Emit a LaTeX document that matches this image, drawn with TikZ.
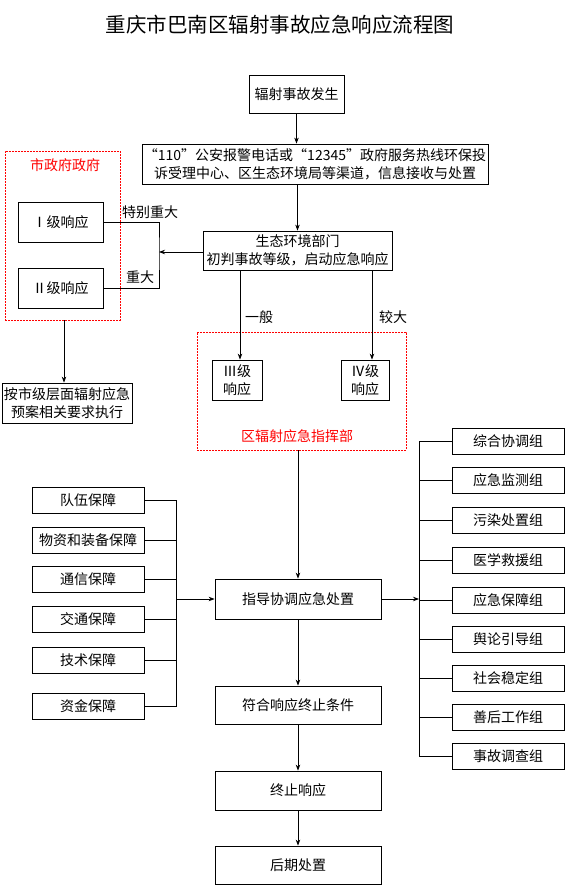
\documentclass[tikz,border=0pt]{standalone}
\usepackage{fontspec}
\setmainfont{Noto Sans CJK SC}
\usetikzlibrary{arrows.meta}

\begin{document}
\begin{tikzpicture}[x=1pt,y=-1pt,
    box/.style={draw, line width=0.8pt, inner sep=0pt, align=center,
      font=\fontsize{14}{18}\selectfont},
    zone/.style={draw=red, line width=0.6pt, dash pattern=on 2pt off 1pt,
      inner sep=0pt},
    arr/.style={-{Stealth[length=6pt,width=4.5pt]}, line width=0.8pt},
    lbl/.style={font=\fontsize{14}{16}\selectfont}]
    \useasboundingbox (0,0) rectangle (565,885);

    \node[font=\fontsize{20.5}{24}\selectfont] (title) at (280,25)
        {重庆市巴南区辐射事故应急响应流程图};

    % main flow
    \node[box, minimum width=95pt, minimum height=38pt] (occur) at (296.5,94) {辐射事故发生};
    \node[box, minimum width=346pt, minimum height=40pt] (report) at (315,164)
        {“110”公安报警电话或“12345”政府服务热线环保投\\诉受理中心、区生态环境局等渠道，信息接收与处置};
    \node[box, minimum width=189pt, minimum height=39pt] (judge) at (297.5,250.5)
        {生态环境部门\\初判事故等级，启动应急响应};
    \draw[arr] (occur.south) -- (occur.south |- report.north);
    \draw[arr] (judge.north |- report.south) -- (judge.north);

    % city level
    \node[zone, minimum width=115pt, minimum height=169pt] (city) at (62.5,235.5) {};
    \node[lbl, red] (citytitle) at (65,165) {市政府政府};
    \node[box, minimum width=85pt, minimum height=40pt] (lv1) at (60.5,222) {Ⅰ级响应};
    \node[box, minimum width=85pt, minimum height=40pt] (lv2) at (60.5,288) {Ⅱ级响应};
    \coordinate (split) at (159,252);
    \draw[line width=0.8pt] (lv1.east) -| (split) |- (lv2.east);
    \draw[arr] (judge.west |- split) -- (split);
    \node[lbl] (special) at (150,212) {特别重大};
    \node[lbl] (major) at (140,277) {重大};
    \node[box, minimum width=130pt, minimum height=40pt] (cityplan) at (67,403)
        {按市级层面辐射应急\\预案相关要求执行};
    \draw[arr] ([xshift=1.5pt]city.south) -- ([xshift=1.5pt]city.south |- cityplan.north);

    % district level
    \node[zone, minimum width=209pt, minimum height=118pt] (district) at (301.5,391) {};
    \node[lbl, red] (disttitle) at (297,436) {区辐射应急指挥部};
    \node[box, minimum width=50pt, minimum height=40pt] (lv3) at (237,380) {Ⅲ级\\响应};
    \node[box, minimum width=48pt, minimum height=40pt] (lv4) at (365,380) {Ⅳ级\\响应};
    \draw[arr] ([xshift=-57.5pt]judge.south) -- ([xshift=-57.5pt]judge.south |- lv3.north);
    \draw[arr] ([xshift=74.5pt]judge.south) -- ([xshift=74.5pt]judge.south |- lv4.north);
    \node[lbl] (normal) at (259,317) {一般};
    \node[lbl] (larger) at (393,317) {较大};

    \node[box, minimum width=166pt, minimum height=40pt] (guide) at (298,599) {指导协调应急处置};
    \node[box, minimum width=166pt, minimum height=38pt] (endcond) at (298,705) {符合响应终止条件};
    \node[box, minimum width=166pt, minimum height=39pt] (endresp) at (298,790.5) {终止响应};
    \node[box, minimum width=166pt, minimum height=38pt] (after) at (298,865) {后期处置};
    \draw[arr] (guide |- district.south) -- (guide.north);
    \draw[arr] (guide.south) -- (endcond.north);
    \draw[arr] (endcond.south) -- (endresp.north);
    \draw[arr] (endresp.south) -- (after.north);

    % support
    \node[box, minimum width=112pt, minimum height=26pt] (sup1) at (88,500) {队伍保障};
    \node[box, minimum width=112pt, minimum height=26pt] (sup2) at (88,540) {物资和装备保障};
    \node[box, minimum width=112pt, minimum height=26pt] (sup3) at (88,579.5) {通信保障};
    \node[box, minimum width=112pt, minimum height=26pt] (sup4) at (88,619.5) {交通保障};
    \node[box, minimum width=112pt, minimum height=26pt] (sup5) at (88,660) {技术保障};
    \node[box, minimum width=112pt, minimum height=26pt] (sup6) at (88,706.5) {资金保障};
    \coordinate (lbus) at (176,599);
    \draw[line width=0.8pt] (sup1.east) -- (sup1.east -| lbus) -- (sup6.east -| lbus) -- (sup6.east);
    \draw[line width=0.8pt] (sup2.east) -- (sup2.east -| lbus);
    \draw[line width=0.8pt] (sup3.east) -- (sup3.east -| lbus);
    \draw[line width=0.8pt] (sup4.east) -- (sup4.east -| lbus);
    \draw[line width=0.8pt] (sup5.east) -- (sup5.east -| lbus);
    \draw[arr] (lbus) -- (guide.west);

    % working groups
    \node[box, minimum width=112pt, minimum height=26pt] (grp1) at (508,441) {综合协调组};
    \node[box, minimum width=112pt, minimum height=26pt] (grp2) at (508,480.5) {应急监测组};
    \node[box, minimum width=112pt, minimum height=26pt] (grp3) at (508,520) {污染处置组};
    \node[box, minimum width=112pt, minimum height=26pt] (grp4) at (508,560) {医学救援组};
    \node[box, minimum width=112pt, minimum height=26pt] (grp5) at (508,600) {应急保障组};
    \node[box, minimum width=112pt, minimum height=26pt] (grp6) at (508,639) {舆论引导组};
    \node[box, minimum width=112pt, minimum height=26pt] (grp7) at (508,678.5) {社会稳定组};
    \node[box, minimum width=112pt, minimum height=26pt] (grp8) at (508,717.5) {善后工作组};
    \node[box, minimum width=112pt, minimum height=26pt] (grp9) at (508,756.5) {事故调查组};
    \coordinate (rbus) at (419,599);
    \draw[line width=0.8pt] (grp1.west) -- (grp1.west -| rbus) -- (grp9.west -| rbus) -- (grp9.west);
    \draw[line width=0.8pt] (grp2.west) -- (grp2.west -| rbus);
    \draw[line width=0.8pt] (grp3.west) -- (grp3.west -| rbus);
    \draw[line width=0.8pt] (grp4.west) -- (grp4.west -| rbus);
    \draw[line width=0.8pt] (grp5.west) -- (grp5.west -| rbus);
    \draw[line width=0.8pt] (grp6.west) -- (grp6.west -| rbus);
    \draw[line width=0.8pt] (grp7.west) -- (grp7.west -| rbus);
    \draw[line width=0.8pt] (grp8.west) -- (grp8.west -| rbus);
    \draw[arr] (guide.east) -- (rbus);
\end{tikzpicture}
\end{document}
